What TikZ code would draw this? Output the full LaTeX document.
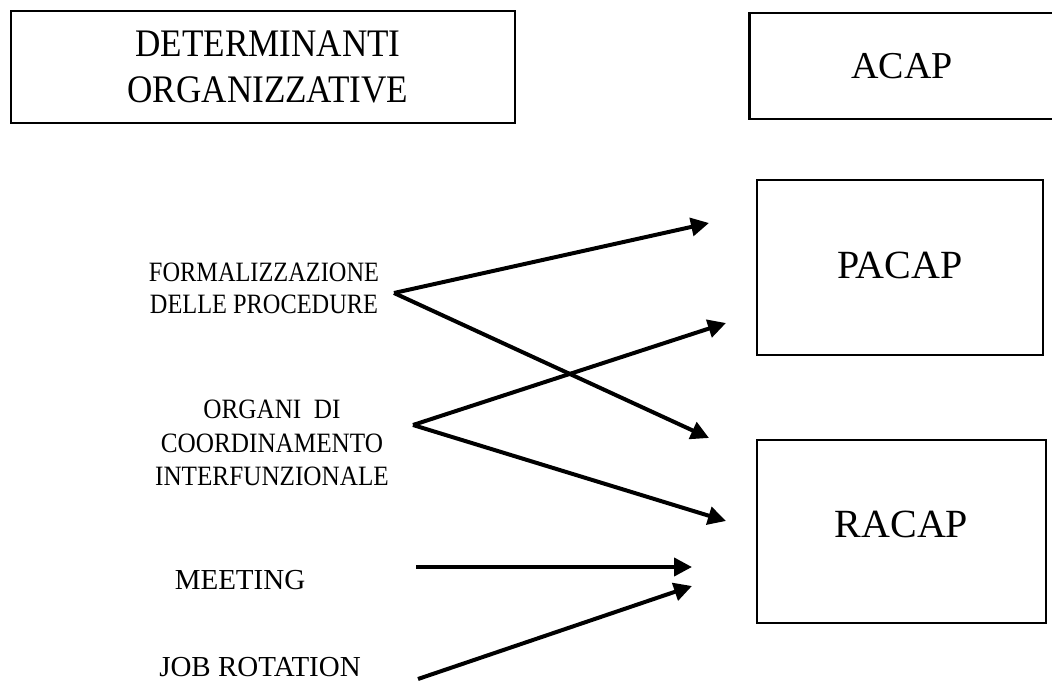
\documentclass[tikz,border=0pt]{standalone}
\usepackage{fontspec}
\setmainfont{Liberation Serif}
\newfontfamily\narrowhead{Liberation Serif}[FakeStretch=0.9]
\newfontfamily\narrowform{Liberation Serif}[FakeStretch=0.87]
\newfontfamily\narroworg{Liberation Serif}[FakeStretch=0.9]
\usetikzlibrary{arrows.meta}

\tikzset{
  box/.style={draw, line width=2.2pt, rectangle, inner sep=0pt, align=center},
  factor/.style={inner sep=0pt, align=center},
  link/.style={line width=4pt, -{Triangle[length=18pt,width=18pt]}}
}

\begin{document}
\begin{tikzpicture}[x=1pt,y=-1pt]
  \useasboundingbox (0,0) rectangle (1052,687);
  \clip (0,0) rectangle (1052,687);

  % headings
  \node[box, minimum width=504pt, minimum height=112pt,
        font=\narrowhead\fontsize{39pt}{46pt}\selectfont] (det) at (263,67)
    {\hspace*{10pt}DETERMINANTI\\\hspace*{10pt}ORGANIZZATIVE};
  \node[box, minimum width=321pt, minimum height=106pt,
        font=\fontsize{38pt}{46pt}\selectfont] (acap) at (910,66)
    {\hspace*{-8pt}\raisebox{-4pt}{ACAP}\hspace*{8pt}};

  % capacity boxes
  \node[box, minimum width=286pt, minimum height=175pt,
        font=\fontsize{40pt}{46pt}\selectfont] (pacap) at (900,267.5)
    {\raisebox{5pt}{PACAP}};
  \node[box, minimum width=289pt, minimum height=183pt,
        font=\fontsize{40pt}{46pt}\selectfont] (racap) at (901.5,531.5)
    {\raisebox{14pt}{RACAP}};

  % organisational factors
  \node[factor, font=\narrowform\fontsize{28pt}{32pt}\selectfont] (form)
    at (264,288) {FORMALIZZAZIONE\\DELLE PROCEDURE};
  \node[factor, font=\narroworg\fontsize{28pt}{33.5pt}\selectfont] (org)
    at (272,443) {ORGANI\ \ DI\\COORDINAMENTO\\INTERFUNZIONALE};
  \node[factor, font=\fontsize{29pt}{33pt}\selectfont] (meet) at (240,580) {MEETING};
  \node[factor, font=\fontsize{29pt}{33pt}\selectfont] (job)  at (260,667) {JOB ROTATION};

  % arrow start and end points
  \coordinate (f0) at (394,293);
  \coordinate (o0) at (413,425);
  \coordinate (m0) at (416,567);
  \coordinate (j0) at (418,679);
  \coordinate (p1) at (709,223);
  \coordinate (p2) at (726,323);
  \coordinate (r1) at (709,438);
  \coordinate (r2) at (726,521);
  \coordinate (r3) at (692,567);
  \coordinate (r4) at (692,586);

  \draw[link] (f0) -- (p1);
  \draw[link] (f0) -- (r1);
  \draw[link] (o0) -- (p2);
  \draw[link] (o0) -- (r2);
  \draw[link] (m0) -- (r3);
  \draw[link] (j0) -- (r4);
\end{tikzpicture}
\end{document}
